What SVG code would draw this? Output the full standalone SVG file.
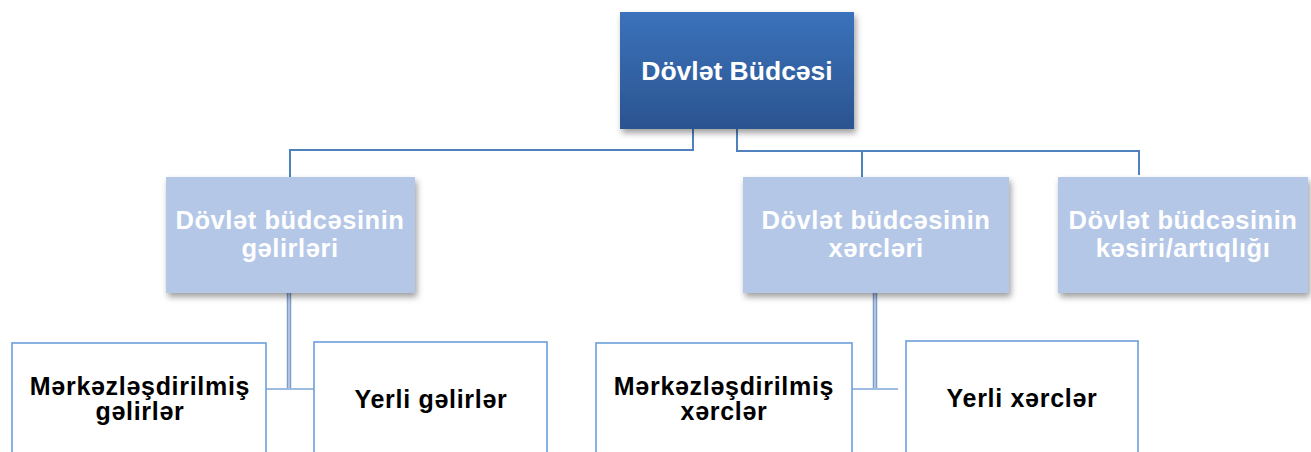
<svg xmlns="http://www.w3.org/2000/svg" width="1311" height="452" viewBox="0 0 1311 452">
<defs>
<linearGradient id="topGrad" x1="0" y1="0" x2="0" y2="1">
<stop offset="0" stop-color="#3b72bb"/>
<stop offset="1" stop-color="#2b5490"/>
</linearGradient>
<filter id="shadow" x="-10%" y="-10%" width="125%" height="135%">
<feDropShadow dx="2" dy="4" stdDeviation="3" flood-color="#000" flood-opacity="0.38"/>
</filter>
</defs>
<style>
.top { fill: url(#topGrad); filter: url(#shadow); }
.mid { fill: #b4c7e7; filter: url(#shadow); }
.leaf { fill: #ffffff; stroke: #6a9fdb; stroke-width: 1.6; }
.t { font-family: "Liberation Sans", Arial, sans-serif; font-weight: bold; text-anchor: middle; }
.tw { fill: #ffffff; font-size: 25.5px; letter-spacing: 0.55px; }
.tb { fill: #000000; font-size: 25px; letter-spacing: 0.7px; }
.conn { fill: none; stroke: #4f81bd; stroke-width: 2; }
.conn2o { fill: none; stroke: #7d9dcb; stroke-width: 4.5; }
.conn2i { fill: none; stroke: #c3d2ec; stroke-width: 1.5; }
.conn3 { fill: none; stroke: #7ea5d6; stroke-width: 1.6; }
</style>
<g id="connectors">
<path class="conn" d="M693,129 V150 H290 V177"/>
<path class="conn" d="M737,129 V151 H1139 V175"/>
<path class="conn" d="M862,151 V177"/>
<path class="conn2o" d="M289,293 V388"/>
<path class="conn2i" d="M289,293 V388"/>
<path class="conn3" d="M266,389 H314"/>
<path class="conn2o" d="M875,293 V388"/>
<path class="conn2i" d="M875,293 V388"/>
<path class="conn3" d="M852,389 H898"/>
</g>
<g id="node-root">
<rect class="top" x="620" y="12" width="234" height="117"/>
<text class="t" x="737" y="80" fill="#ffffff" font-size="26.5px">Dövlət Büdcəsi</text>
</g>
<g id="node-gelirler">
<rect class="mid" x="166" y="177" width="249" height="116"/>
<text class="t tw" x="290" y="229"><tspan x="290">Dövlət büdcəsinin</tspan><tspan x="290" dy="28">gəlirləri</tspan></text>
</g>
<g id="node-xercler">
<rect class="mid" x="743" y="177" width="266" height="116"/>
<text class="t tw" x="876" y="229"><tspan x="876">Dövlət büdcəsinin</tspan><tspan x="876" dy="28">xərcləri</tspan></text>
</g>
<g id="node-kesir">
<rect class="mid" x="1058" y="177" width="250" height="116"/>
<text class="t tw" x="1183" y="229"><tspan x="1183">Dövlət büdcəsinin</tspan><tspan x="1183" dy="28">kəsiri/artıqlığı</tspan></text>
</g>
<g id="node-merk-gelir">
<rect class="leaf" x="12" y="343" width="254" height="130"/>
<text class="t tb" x="140" y="395"><tspan x="140">Mərkəzləşdirilmiş</tspan><tspan x="140" dy="25">gəlirlər</tspan></text>
</g>
<g id="node-yerli-gelir">
<rect class="leaf" x="314" y="342" width="233" height="130"/>
<text class="t tb" x="431" y="408">Yerli gəlirlər</text>
</g>
<g id="node-merk-xerc">
<rect class="leaf" x="596" y="343" width="256" height="130"/>
<text class="t tb" x="724" y="395"><tspan x="724">Mərkəzləşdirilmiş</tspan><tspan x="724" dy="25">xərclər</tspan></text>
</g>
<g id="node-yerli-xerc">
<rect class="leaf" x="906" y="341" width="232" height="130"/>
<text class="t tb" x="1022" y="407">Yerli xərclər</text>
</g>
</svg>
